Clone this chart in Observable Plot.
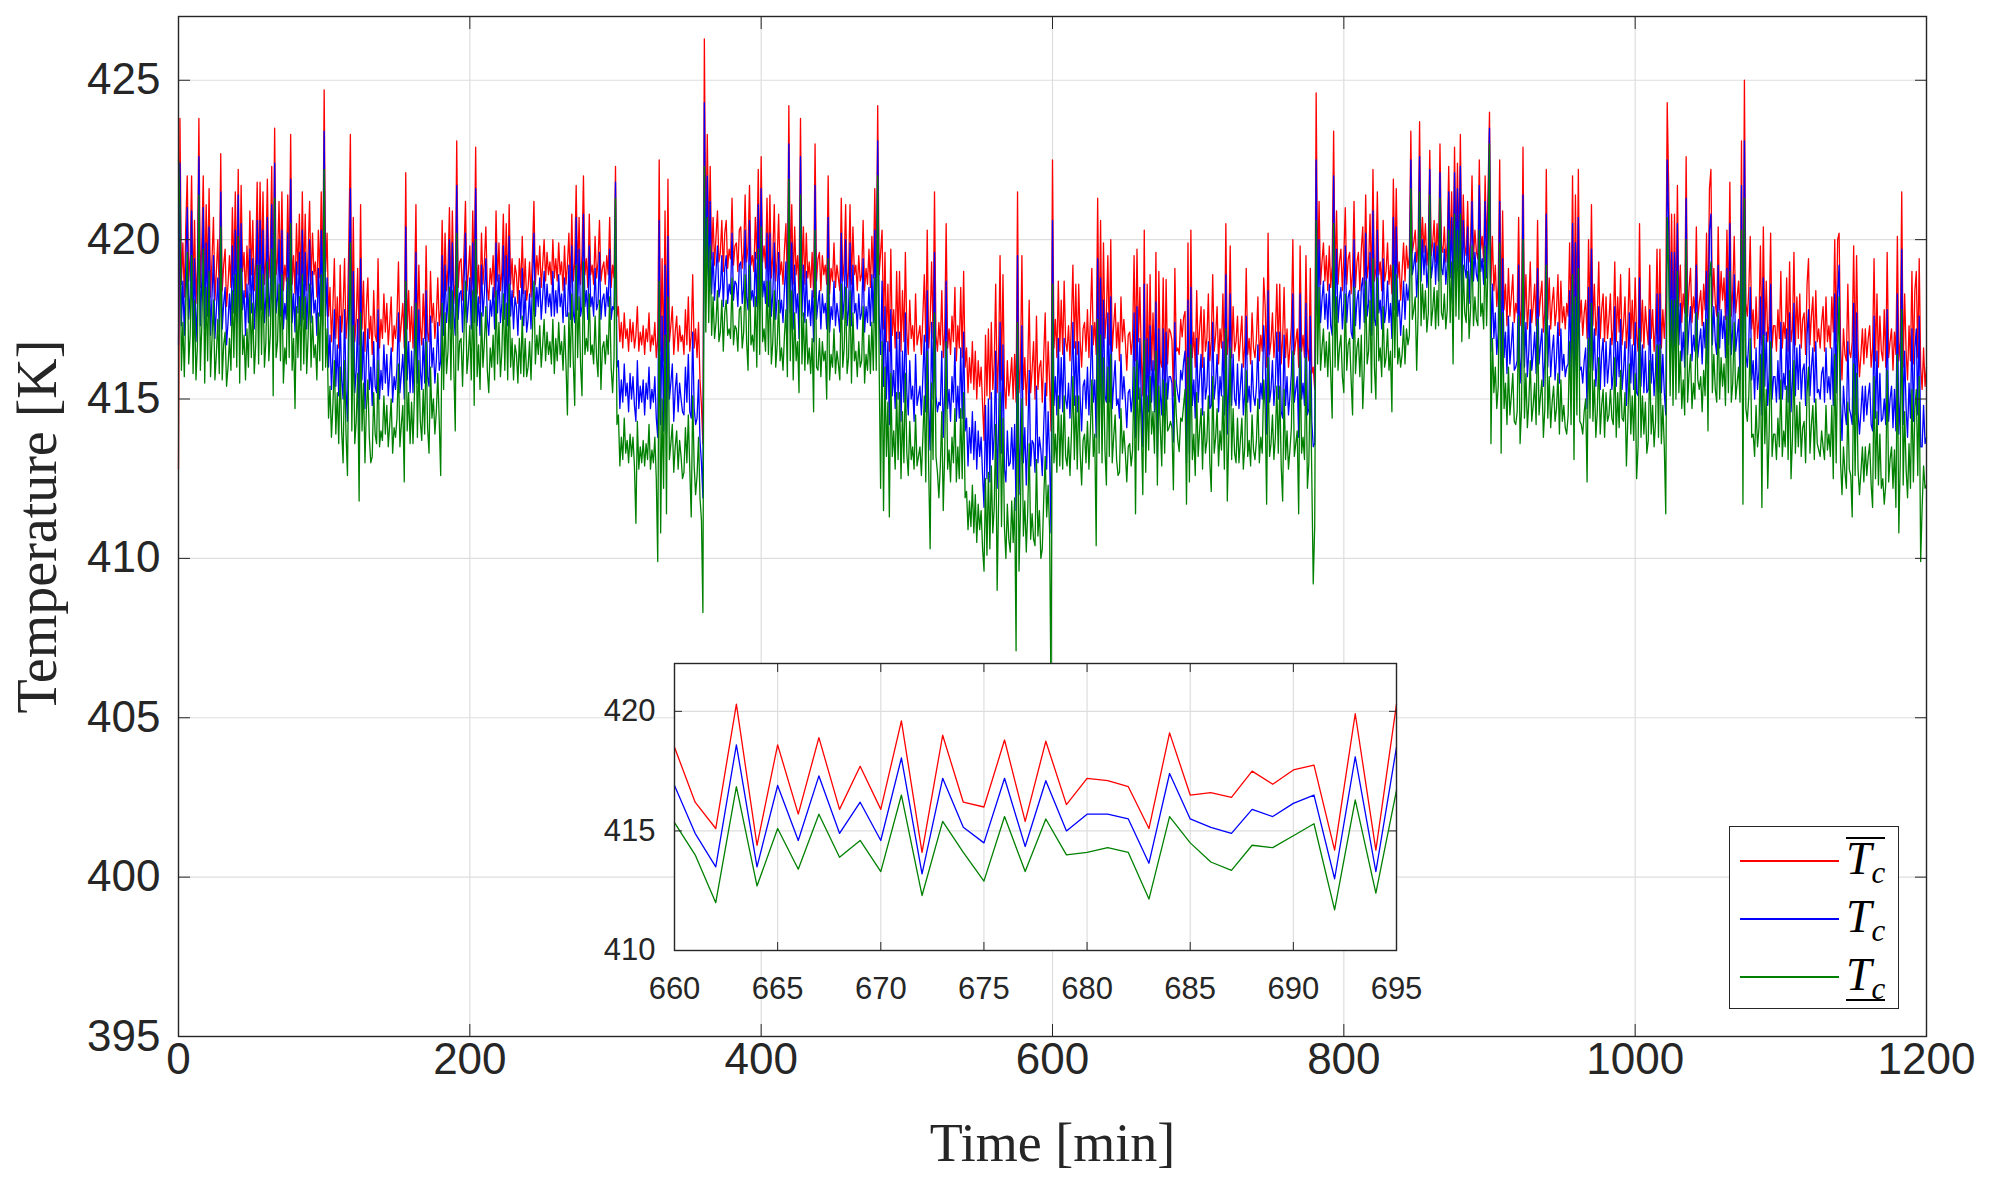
<!DOCTYPE html>
<html>
<head>
<meta charset="utf-8">
<script src="https://cdn.jsdelivr.net/npm/d3@7"></script>
<script src="https://cdn.jsdelivr.net/npm/@observablehq/plot@0.6"></script>
<style>
html, body { margin: 0; padding: 0; background: #fff; overflow: hidden; }
#wrap { position: relative; width: 1991px; height: 1186px; }
#main { position: absolute; left: 0; top: 0; }
#inset { position: absolute; left: 594px; top: 653px; }
#legend { position: absolute; left: 1729px; top: 826px; width: 170px; height: 183px; box-sizing: border-box;
  border: 1.4px solid #262626; background: #fff; }
.row { position: absolute; left: 0; width: 170px; height: 50px; }
.sw { position: absolute; left: 10px; top: 24px; width: 99px; height: 1.5px; }
.lab { position: absolute; left: 116px; top: -2px; font-family: "Liberation Serif", "DejaVu Serif", serif; font-size: 46px; line-height: 50px; color: #000; white-space: nowrap; }
.dec { display: inline-block; line-height: 40px; }
.lab i { font-style: italic; }
.lab sub { font-size: 31px; font-style: italic; vertical-align: -9px; line-height: 0; }
.over { border-top: 2px solid #000; }
.under { border-bottom: 2px solid #000; padding-bottom: 4px; }
</style>
</head>
<body>
<div id="wrap">
  <div id="main"></div>
  <div id="inset"></div>
  <div id="legend"></div>
</div>
<script>
// ---- Data (1-minute samples) ----
const upperTemp = [
412.8,423.8,418.6,419.9,418.2,420.4,422.0,418.7,419.5,422.0,
418.3,420.6,418.0,419.2,423.8,418.5,419.9,422.0,418.4,421.1,
418.8,421.6,418.2,419.4,420.7,418.1,419.0,420.0,418.3,422.7,
418.4,419.2,419.7,417.9,418.6,419.5,418.5,421.0,418.9,421.5,
418.6,422.2,418.3,421.7,419.0,419.6,418.2,419.8,418.6,420.9,
418.9,420.6,418.4,419.3,421.8,418.7,421.8,419.0,421.5,418.6,
419.4,421.9,418.8,419.6,422.3,418.5,423.5,418.9,419.4,421.2,
418.8,421.5,418.4,419.2,418.7,421.4,418.9,423.3,418.6,419.5,
418.3,420.5,418.9,420.8,418.5,421.5,418.7,420.8,418.4,419.6,
421.2,418.6,420.2,418.9,419.3,418.2,420.3,418.8,421.5,418.5,
424.7,419.0,420.2,417.6,418.5,416.8,417.9,419.4,416.9,418.2,
416.6,419.2,417.1,417.8,419.4,416.9,417.6,420.1,423.3,417.0,
420.7,416.8,417.5,419.1,416.7,421.1,417.2,418.7,416.5,417.9,
418.8,416.9,417.6,416.4,418.4,417.0,416.8,419.4,416.6,417.5,
416.9,418.3,417.1,418.0,416.7,417.4,418.2,416.5,417.3,416.9,
417.6,419.3,416.8,417.4,418.0,416.6,422.1,417.2,418.4,416.8,
417.9,416.6,418.2,421.1,416.9,419.2,417.3,416.7,418.3,416.9,
419.8,417.1,416.8,419.0,417.4,418.0,416.9,417.6,418.8,417.3,
417.8,420.6,418.0,420.2,418.4,419.1,421.0,418.2,420.9,418.6,
418.0,423.1,418.5,419.3,419.4,418.1,419.6,421.2,418.4,419.0,
419.8,418.2,420.9,418.7,422.9,418.3,419.2,418.0,420.2,418.6,
419.3,420.4,418.5,418.1,419.1,418.6,419.5,418.2,420.9,418.7,
419.9,418.4,419.0,420.8,418.5,420.5,418.3,421.1,418.6,419.4,
418.2,419.2,418.9,418.0,419.4,418.5,420.1,418.3,419.4,418.1,
418.5,419.3,418.2,419.6,421.2,418.6,419.5,418.9,419.8,418.5,
419.2,420.0,418.7,419.6,418.9,419.3,418.6,420.0,418.8,419.4,
418.7,419.9,418.9,419.3,418.4,419.8,418.6,419.2,420.2,418.5,
420.8,418.7,419.3,421.7,418.8,420.7,418.6,419.5,422.0,418.9,
419.4,418.5,420.8,418.9,419.2,418.6,420.1,418.8,419.3,420.6,
418.7,419.1,419.3,418.6,419.5,418.9,420.7,418.5,419.2,418.8,
422.3,417.6,417.9,416.8,417.4,416.6,417.7,416.9,417.2,416.5,
417.5,416.8,417.4,416.6,417.0,417.9,416.5,417.1,416.7,417.3,
416.4,417.2,416.8,417.7,416.5,417.0,416.7,417.4,416.3,416.9,
422.5,416.5,419.4,416.2,420.9,416.6,421.9,416.8,417.3,417.9,
416.4,417.1,417.6,416.5,417.3,416.8,417.0,416.4,417.8,416.7,
418.2,416.5,417.0,418.9,416.6,417.2,416.3,417.4,415.6,414.8,
413.6,426.3,419.6,423.3,419.8,422.3,419.4,420.7,419.2,420.1,
420.9,419.3,419.6,420.6,419.0,420.2,420.6,419.1,419.7,419.4,
421.3,419.2,419.8,419.9,419.0,420.3,420.4,419.1,419.6,421.4,
419.3,419.8,421.7,419.2,419.5,419.0,420.7,419.4,422.2,419.0,
422.6,419.3,419.8,419.1,421.3,419.0,421.4,418.8,419.5,421.1,
418.7,419.4,420.8,418.9,419.3,418.6,419.7,420.5,418.5,424.2,
418.9,421.1,418.6,420.4,418.9,419.5,418.3,423.8,418.8,420.4,
418.6,420.2,418.8,419.3,418.5,419.6,418.2,423.0,418.7,419.4,
419.6,418.4,419.5,418.9,419.2,418.6,422.0,418.3,419.1,418.7,
419.9,418.5,419.2,418.8,418.4,421.3,418.7,419.3,421.1,418.5,
419.0,421.1,418.6,420.4,418.9,419.2,418.4,419.5,418.7,418.9,
420.6,418.4,419.1,418.6,419.7,418.5,420.1,418.8,421.6,418.7,
424.2,418.9,419.6,420.3,417.2,419.6,416.8,418.6,416.5,419.7,
417.0,417.8,416.6,419.0,416.9,419.0,416.5,418.4,416.8,419.6,
417.1,416.4,418.1,416.9,417.3,416.5,418.3,416.7,417.0,417.3,
416.4,417.6,418.9,416.8,420.3,416.6,417.4,419.3,416.9,421.5,
417.0,416.5,417.4,416.7,418.4,416.3,417.1,420.5,416.6,417.2,
416.4,417.6,416.8,418.5,416.2,417.3,416.6,418.5,416.3,419.0,
416.0,416.6,415.2,416.3,415.5,416.8,415.3,416.5,415.0,416.2,
415.4,416.0,414.8,413.7,417.0,415.1,417.2,415.0,417.4,415.3,
416.1,418.6,415.2,416.3,419.5,415.6,418.9,415.4,414.7,416.2,
415.1,415.6,416.3,415.0,416.4,414.9,421.5,415.2,416.0,419.5,
415.3,416.3,414.8,416.0,418.1,415.2,415.9,416.8,415.0,417.6,
415.3,416.0,416.2,414.9,416.4,417.7,415.1,416.8,415.5,414.0,
422.5,416.6,417.5,416.3,418.7,416.5,418.1,416.4,418.7,416.8,
416.5,417.3,416.2,417.4,419.2,416.6,418.6,416.4,418.6,416.8,
416.0,417.2,417.4,416.5,417.8,416.3,417.5,419.1,416.7,417.4,
416.4,421.3,416.8,420.6,416.5,419.9,416.9,417.6,419.5,416.7,
420.0,416.5,417.3,418.0,416.6,417.4,416.2,418.2,416.8,417.5,
416.8,415.9,417.0,417.1,416.4,416.9,419.5,416.2,419.7,416.8,
418.5,416.2,415.1,420.3,414.4,418.6,415.7,418.9,415.9,417.7,
415.9,419.6,414.1,419.0,416.2,416.0,418.8,415.4,418.75,416.1,
417.2,417.1,416.85,415.1,419.1,416.5,416.6,416.4,417.5,416.95,
417.55,417.75,414.2,419.9,414.2,420.3,416.3,417.1,416.0,418.4,
416.4,417.2,417.9,416.0,417.8,416.5,416.9,418.3,416.2,416.8,
418.9,416.5,417.0,417.9,416.1,417.2,416.6,418.3,416.0,420.5,
416.4,417.0,419.8,416.3,417.9,416.5,416.8,417.6,416.2,416.9,
417.6,416.0,416.7,419.1,416.4,416.9,416.1,417.7,416.6,416.3,
416.9,418.2,416.2,417.0,416.5,418.8,417.9,416.0,420.2,416.4,
416.8,417.7,416.3,417.0,418.6,416.5,418.6,416.1,416.9,418.5,
416.3,417.2,416.0,416.6,417.3,420.0,416.4,416.8,417.2,416.0,
419.8,416.5,417.0,416.3,419.5,416.6,416.2,419.1,415.8,416.0,
415.3,424.6,418.8,421.2,418.6,419.3,419.9,418.7,419.5,418.4,
419.8,418.5,419.2,423.4,418.7,420.9,418.6,419.3,419.7,418.4,
419.5,421.0,418.6,419.4,419.6,418.3,419.0,421.2,418.5,419.3,
419.6,418.4,419.7,420.4,418.6,421.4,418.8,419.2,420.8,418.5,
422.2,418.7,419.1,421.5,418.9,419.3,418.4,420.6,418.7,419.0,
419.9,418.6,419.2,418.3,421.9,419.0,421.6,418.8,419.3,418.1,
419.0,419.9,418.7,419.8,419.1,419.5,423.4,419.6,419.9,420.3,
419.3,419.8,423.7,419.4,420.7,419.6,420.5,419.2,419.8,422.8,
419.5,419.9,420.6,419.3,420.5,419.4,423.0,419.8,419.6,420.4,
419.3,419.9,422.3,419.5,421.5,419.2,422.9,419.7,422.4,419.6,
423.3,419.4,421.4,419.8,419.5,421.2,419.3,419.9,422.0,419.4,
420.3,419.6,419.4,422.5,419.7,420.1,419.3,422.0,419.6,421.5,
424.0,418.6,420.1,418.4,419.2,417.9,418.6,422.5,417.6,420.9,
417.8,418.6,417.3,419.1,417.6,418.2,418.9,417.4,418.0,417.7,
420.7,417.3,417.8,422.9,417.5,418.9,417.2,418.0,419.3,417.4,
417.9,418.6,417.3,420.6,417.6,418.2,418.7,417.1,417.8,422.2,
417.5,418.8,417.2,418.0,418.5,417.3,417.8,418.9,417.0,418.7,
417.4,417.9,417.2,418.0,417.6,419.9,417.3,422.0,417.5,421.4,
417.6,422.2,417.4,418.1,417.0,417.7,418.1,416.9,420.0,417.5,
421.1,417.3,418.6,417.0,417.6,419.3,416.9,417.8,418.3,416.8,
418.2,416.9,417.5,418.3,416.7,417.2,419.3,416.8,418.2,417.1,
418.9,416.7,417.3,418.2,416.6,417.4,419.1,416.9,418.1,416.7,
418.8,417.0,416.5,420.5,416.8,418.1,416.6,417.9,417.2,416.7,
419.2,416.9,417.8,416.5,417.3,419.7,416.8,419.7,416.6,417.8,
416.9,418.0,424.3,421.7,417.8,420.8,417.5,420.8,417.6,421.7,
417.9,419.2,417.4,418.3,417.7,422.6,417.6,418.5,419.1,417.4,
418.2,417.7,420.4,417.5,418.0,418.4,417.3,418.6,417.8,420.2,
417.6,421.6,422.2,417.9,419.1,418.0,417.6,420.4,417.8,419.0,
418.1,418.8,417.5,420.3,417.9,421.8,417.6,418.4,420.1,417.7,
418.2,418.7,417.1,423.1,416.6,425.0,418.0,417.6,418.4,420.1,
417.2,417.8,416.6,418.2,416.9,417.5,419.8,416.7,420.4,417.0,
418.7,416.8,417.4,420.2,416.6,417.3,417.3,416.5,417.8,416.9,
419.0,416.6,417.4,416.9,418.8,416.5,419.3,416.8,417.2,419.6,
416.7,418.2,416.9,418.3,416.6,417.5,417.7,416.4,418.6,419.4,
416.7,417.6,418.2,416.5,418.4,416.8,417.2,416.6,417.4,417.9,
416.5,418.2,416.8,417.3,416.6,418.2,417.1,420.0,416.8,420.0,
420.2,416.7,415.6,417.2,416.4,416.2,418.6,416.5,416.3,416.8,
419.8,416.3,419.5,416.6,415.7,416.4,417.2,416.1,417.2,416.3,
416.9,417.3,416.0,416.6,419.4,416.2,418.3,416.0,417.6,416.5,
416.2,417.8,416.0,419.6,416.3,416.8,417.2,415.9,417.1,416.4,
420.1,416.2,416.8,421.5,416.0,418.3,416.5,415.6,417.3,416.2,
419.0,416.1,418.4,419.0,416.3,419.4,416.0,415.3,416.6,415.4,
416.0];

const nominalTemp = [
416.7,422.4,417.3,418.7,417.0,419.2,421.0,417.5,418.3,420.9,
417.1,419.4,416.8,418.0,422.6,417.3,418.7,421.0,417.2,419.9,
417.6,420.4,417.0,418.2,419.5,416.9,417.8,418.8,417.1,421.5,
417.2,418.0,418.5,416.7,417.4,418.3,417.3,419.8,417.7,420.3,
417.4,421.4,417.1,420.5,417.8,418.4,417.0,418.6,417.4,419.7,
417.7,419.4,417.2,418.1,420.6,417.5,420.6,417.8,420.3,417.4,
418.2,420.7,417.6,418.4,421.1,417.2,422.4,417.7,418.2,420.0,
417.6,420.3,417.2,418.0,417.5,420.2,417.7,421.9,417.4,418.3,
417.1,419.3,417.7,419.6,417.3,420.3,417.5,419.6,417.2,418.4,
420.0,417.4,419.0,417.7,418.1,417.0,419.1,417.6,420.3,417.3,
423.4,417.6,418.8,416.0,417.0,415.3,416.4,417.8,415.4,416.7,
415.1,417.6,415.6,415.0,417.8,415.3,414.3,418.5,421.6,415.5,
419.0,415.2,415.9,417.5,414.0,419.4,415.6,417.1,414.7,416.3,
417.2,415.3,416.0,414.8,416.8,415.4,415.2,417.8,415.0,415.9,
415.3,416.7,415.5,416.4,415.1,415.8,416.6,414.9,415.7,415.3,
416.0,417.7,415.2,415.8,416.4,415.0,420.4,415.6,416.8,415.2,
416.5,415.2,416.8,419.6,415.5,417.8,415.9,415.3,416.9,415.5,
418.4,415.7,415.4,417.6,416.0,416.6,415.5,416.2,417.4,415.9,
416.2,419.5,417.0,419.2,417.4,418.1,420.0,417.2,419.9,417.6,
417.0,421.7,417.5,418.3,418.4,417.1,418.6,420.2,417.4,418.0,
418.8,417.2,419.9,417.4,421.6,417.3,418.2,417.0,419.2,417.6,
418.3,419.4,417.5,417.0,418.1,417.6,418.5,417.2,419.9,417.7,
418.9,417.4,418.0,419.8,417.5,419.5,417.3,420.1,417.6,418.4,
417.2,418.2,417.9,417.0,418.4,417.5,419.1,417.3,418.4,417.1,
417.5,418.3,417.2,418.6,420.2,417.6,418.5,417.9,418.8,417.5,
418.2,419.0,417.7,418.6,417.9,418.3,417.6,419.0,417.6,418.4,
417.7,418.9,417.9,418.3,417.4,418.8,417.6,417.6,419.2,417.5,
419.8,417.7,417.4,420.7,417.8,419.7,417.6,417.9,420.8,417.9,
418.4,417.5,419.8,417.9,418.2,417.6,419.1,417.8,418.0,419.6,
417.5,418.1,418.3,417.6,418.5,417.9,419.7,417.5,417.9,417.8,
421.8,416.0,416.2,414.7,415.6,414.9,416.1,415.1,415.5,414.6,
415.8,415.0,415.7,414.8,414.3,416.2,414.7,415.4,414.9,415.6,
414.5,415.5,415.0,416.0,414.7,415.3,414.9,415.7,414.4,413.8,
420.6,414.2,417.6,414.0,419.2,413.9,420.1,415.0,415.5,416.1,
414.3,415.3,415.8,414.6,415.5,415.0,414.6,414.5,416.0,414.9,
416.4,414.6,414.4,417.1,414.7,414.2,414.4,415.6,413.7,413.0,
411.9,424.3,418.5,422.0,418.7,421.2,418.3,419.6,418.1,419.0,
419.8,418.2,418.5,419.5,417.9,419.1,419.5,418.0,418.6,418.3,
420.2,418.1,418.7,418.6,417.9,419.2,419.3,418.0,418.5,420.3,
418.2,417.8,420.6,418.1,418.4,417.9,419.6,417.9,421.1,417.8,
421.6,418.2,418.7,418.0,420.2,417.9,420.2,417.6,418.3,419.9,
417.5,418.2,419.6,417.7,418.1,417.4,418.5,419.3,417.1,423.0,
417.7,419.9,417.2,419.2,417.7,418.3,416.9,422.6,417.6,419.2,
417.4,419.0,417.6,418.1,417.3,418.4,416.8,421.7,417.5,418.0,
418.4,417.2,418.3,417.7,418.0,417.2,420.7,417.1,417.9,417.5,
418.7,417.3,418.0,417.6,417.1,420.2,417.5,418.1,420.0,417.3,
417.8,419.9,417.3,419.2,417.7,418.0,417.2,418.3,417.5,417.7,
419.4,417.1,417.9,417.4,418.5,417.3,418.9,417.4,420.3,417.4,
423.1,417.6,416.4,418.7,415.4,417.9,415.0,416.8,414.2,417.8,
415.1,415.9,414.7,417.1,415.0,417.1,414.3,416.5,414.9,417.7,
415.2,414.5,416.2,415.0,415.4,414.3,416.4,414.8,415.1,415.4,
414.5,415.7,417.0,414.6,418.4,414.7,413.4,417.4,415.0,419.6,
415.1,414.6,414.9,414.8,416.5,413.8,415.2,418.7,414.7,415.3,
414.3,415.7,414.9,416.6,414.3,415.4,414.4,416.6,414.4,417.1,
414.0,414.4,412.9,414.1,413.3,414.6,413.1,414.3,412.8,414.0,
413.2,413.8,412.6,411.6,414.8,412.5,415.0,412.4,415.2,413.1,
413.9,416.5,412.2,414.1,417.4,413.3,416.7,412.8,412.4,414.0,
412.9,413.0,414.1,412.8,414.2,411.5,419.5,412.0,413.8,417.3,
413.0,414.1,412.3,413.8,415.9,412.9,413.7,413.6,412.7,415.4,
413.0,413.8,413.4,412.6,414.2,415.5,412.8,414.6,413.2,410.8,
420.6,414.8,415.7,414.5,416.9,414.7,416.3,414.6,416.9,415.0,
414.7,415.5,414.4,415.6,417.4,414.8,416.8,414.6,416.8,415.0,
414.0,415.4,415.6,414.7,416.0,414.5,415.7,417.3,414.9,415.6,
413.8,419.4,415.0,418.8,414.7,418.1,415.1,414.9,417.7,414.9,
418.2,414.7,415.5,416.2,414.8,415.0,414.4,416.4,415.0,415.7,
415.0,414.1,415.2,415.3,414.6,415.1,417.7,413.8,417.9,415.0,
416.9,414.9,413.5,418.6,413.5,416.9,414.6,417.3,414.9,416.2,
414.6,418.05,413.2,417.2,415.15,414.5,417.2,414.35,417.1,415.0,
415.7,415.7,415.5,413.65,417.4,415.5,415.15,414.9,415.9,415.6,
416.15,416.5,413.0,418.1,413.3,418.5,414.8,415.6,414.4,416.9,
414.9,415.7,416.4,414.5,416.3,415.0,415.4,416.8,414.7,414.8,
417.4,415.0,415.5,416.4,414.6,415.7,415.1,416.8,414.5,418.9,
413.9,415.5,418.3,414.8,416.4,415.0,414.8,416.1,414.7,415.4,
416.1,414.5,415.2,417.6,414.9,415.4,414.6,416.2,415.1,414.8,
415.4,416.7,414.7,415.5,415.0,417.3,416.4,413.9,418.4,414.9,
415.3,416.2,414.8,415.5,417.1,415.0,417.1,414.6,414.4,417.0,
414.8,415.7,414.5,415.1,415.8,418.3,414.9,415.3,415.7,413.8,
418.3,415.0,415.5,414.8,418.0,414.5,414.7,417.6,414.3,413.5,
413.6,422.5,417.6,420.0,417.4,418.1,418.7,417.5,418.3,417.2,
418.6,417.3,417.0,422.0,417.5,419.7,417.4,418.1,418.5,417.2,
418.0,419.8,417.4,418.2,418.4,417.1,416.9,420.0,417.3,418.1,
418.4,417.2,418.5,418.8,417.4,420.2,417.6,418.0,419.6,417.0,
420.9,417.5,417.3,420.3,417.7,418.1,417.2,419.4,417.4,417.8,
418.7,417.4,418.0,416.9,420.7,417.8,420.4,417.6,418.1,417.0,
417.8,418.7,417.5,418.6,418.1,418.6,422.5,418.9,419.2,419.6,
418.2,419.1,422.6,418.7,420.0,418.9,419.8,418.5,419.1,422.2,
418.8,419.2,419.9,418.6,419.8,418.7,422.1,419.1,418.9,419.7,
418.6,419.2,421.5,418.8,420.7,418.0,422.1,419.0,421.6,418.9,
422.3,418.2,420.6,419.1,418.8,420.4,418.0,419.2,421.2,418.7,
419.6,418.9,418.7,421.7,419.0,419.4,418.6,421.2,418.8,420.7,
423.5,416.5,418.6,416.9,417.7,416.4,417.1,421.2,415.6,419.4,
416.3,417.1,415.8,417.6,416.1,416.7,417.4,415.9,416.0,416.2,
419.2,415.5,416.3,421.4,416.0,417.4,415.7,416.5,417.8,415.9,
416.4,417.1,415.8,419.1,416.1,416.7,417.2,415.4,416.3,420.8,
416.0,417.3,415.7,416.5,417.0,415.6,416.3,417.4,415.5,417.2,
415.9,416.4,415.7,416.0,416.1,418.4,415.8,420.5,415.2,419.9,
416.1,420.7,415.9,416.0,415.5,416.2,416.6,414.7,418.5,416.0,
419.7,415.9,417.2,415.4,416.2,417.9,415.3,416.4,416.9,415.4,
416.8,415.5,416.1,416.9,415.3,415.8,417.9,415.4,416.8,415.7,
417.5,415.3,415.9,416.8,414.8,416.0,417.7,415.5,416.7,415.3,
417.4,415.2,415.1,418.8,415.4,416.7,415.2,416.5,415.2,415.3,
417.8,415.5,416.4,415.1,415.9,418.3,415.2,418.3,415.2,416.4,
415.2,414.5,422.5,420.5,416.6,419.6,416.3,419.6,416.2,420.5,
416.7,418.0,416.2,417.1,416.0,421.3,416.4,417.3,417.9,416.2,
417.0,416.5,419.2,416.3,416.8,417.2,416.1,417.4,416.6,419.0,
416.1,420.3,420.8,416.7,417.9,416.8,416.4,419.2,416.6,417.8,
416.9,417.6,416.3,419.1,416.7,420.5,416.4,417.2,418.9,416.5,
417.0,417.5,415.6,421.7,414.4,423.1,416.4,416.0,416.8,418.5,
415.6,416.2,415.0,416.6,415.3,415.9,418.2,414.5,418.8,415.4,
417.1,414.8,415.8,418.6,415.0,415.7,415.7,414.9,416.2,415.0,
417.4,415.0,415.8,415.3,417.2,414.9,417.7,414.6,415.6,418.0,
415.1,416.6,415.3,416.7,415.0,415.9,416.1,414.8,417.0,417.8,
415.1,416.0,416.6,414.9,416.8,415.2,415.3,415.0,415.8,416.0,
414.9,416.6,415.2,415.7,415.0,416.6,414.8,418.3,415.2,418.3,
419.2,414.9,413.7,415.4,414.6,414.2,416.8,414.7,414.5,414.2,
418.0,414.5,417.7,414.6,413.9,414.6,415.4,414.3,415.4,414.5,
415.1,415.5,414.2,414.0,417.6,414.4,416.5,414.2,415.8,414.3,
414.4,415.0,414.2,417.8,414.3,415.0,415.4,414.1,415.3,414.0,
418.3,413.9,415.0,419.7,414.2,416.5,414.7,413.8,415.5,414.4,
417.2,414.3,416.6,417.2,414.5,417.6,413.5,413.5,414.8,413.6,
413.8];

const lowerTemp = [
422.5,421.0,415.9,417.4,415.7,417.9,419.6,416.1,417.0,419.5,
415.8,418.1,415.6,416.7,421.4,415.9,417.3,419.7,415.5,418.5,
416.2,419.0,415.7,416.9,418.1,415.6,416.4,417.5,415.8,420.4,
415.6,416.7,417.1,415.4,416.0,416.9,415.9,418.4,416.3,418.9,
416.0,420.1,415.5,419.1,416.4,417.0,415.6,417.2,416.0,418.3,
416.3,418.0,415.8,416.7,419.2,416.1,419.2,416.4,418.9,416.0,
416.8,419.3,416.2,417.0,419.7,415.1,421.3,416.3,416.8,418.6,
416.2,418.9,415.5,416.6,416.1,418.8,416.3,420.5,415.9,416.9,
414.7,417.9,416.3,418.2,415.9,418.9,416.1,418.2,415.8,417.0,
418.6,416.0,417.6,416.3,416.7,415.6,417.7,416.2,418.9,415.9,
422.2,416.0,417.2,414.4,415.4,413.8,414.8,416.2,413.9,415.2,
413.6,416.0,414.0,413.0,416.2,413.9,412.6,416.9,419.9,414.0,
417.3,413.6,414.3,415.8,411.8,417.7,414.0,415.5,413.0,414.7,
415.6,413.8,413.0,413.2,415.2,413.9,413.6,416.2,413.5,414.0,
413.7,415.1,413.9,414.8,413.5,414.2,415.0,413.3,414.1,413.8,
414.4,416.1,413.5,414.2,414.8,412.4,418.7,414.0,415.2,413.6,
414.9,413.6,415.2,418.0,413.8,416.2,414.3,413.7,415.3,413.9,
416.8,414.1,413.3,416.0,414.4,415.0,413.9,414.6,415.8,414.3,
412.6,418.0,415.3,417.7,415.8,416.5,418.5,415.6,418.4,416.0,
414.0,420.2,415.9,416.8,416.9,415.4,417.1,418.7,415.8,416.4,
417.3,415.6,418.4,414.8,420.0,415.7,416.7,415.3,417.7,416.0,
416.8,417.9,415.9,415.2,416.6,416.0,417.0,415.6,418.4,416.1,
417.4,415.7,416.5,418.3,415.9,418.0,415.6,418.6,416.0,416.9,
415.6,416.7,416.4,415.5,416.9,415.8,417.6,415.7,416.9,415.7,
416.0,416.8,415.6,417.1,418.7,416.1,417.0,416.4,417.3,416.0,
416.7,417.5,416.2,417.1,416.4,416.8,416.1,417.5,415.8,416.9,
416.2,417.4,416.4,416.8,415.9,417.3,416.1,414.5,417.7,416.0,
418.3,416.2,414.8,419.2,416.3,418.2,416.1,415.1,419.3,416.4,
416.9,416.5,418.3,416.4,416.7,416.1,417.6,416.3,415.7,418.1,
415.3,416.6,416.8,416.1,417.0,416.4,418.2,416.0,415.2,416.3,
421.3,414.2,414.5,412.9,413.8,413.1,414.4,413.3,413.7,413.0,
413.9,413.2,413.8,412.9,411.1,414.3,412.8,413.5,413.0,413.7,
412.9,413.6,413.1,414.2,412.8,413.4,413.0,413.8,412.5,409.9,
418.7,410.8,415.0,412.2,417.0,411.4,418.2,413.1,413.6,414.2,
412.7,413.5,414.0,412.8,413.7,413.2,412.5,412.7,414.1,413.0,
414.5,412.8,411.3,415.1,412.9,412.0,412.6,413.8,411.9,411.2,
408.3,422.3,417.1,420.7,417.4,419.8,417.0,418.2,416.9,417.4,
418.4,416.8,417.1,418.1,416.5,417.7,418.1,417.0,417.2,416.9,
418.8,416.7,417.3,417.2,416.5,417.8,417.9,416.6,417.1,418.9,
416.8,415.9,419.2,416.7,417.0,416.5,418.2,416.0,419.7,416.4,
420.4,416.8,417.2,416.5,418.7,416.4,418.7,416.1,416.8,418.4,
416.0,416.7,418.1,416.2,416.6,415.9,417.0,417.8,415.7,421.9,
416.2,418.4,415.6,417.7,416.2,416.8,415.2,421.4,416.1,417.7,
415.9,417.5,416.1,416.6,415.8,416.9,414.6,420.3,416.0,415.9,
416.9,415.7,416.8,416.2,416.5,415.0,419.4,415.6,416.4,416.0,
417.2,415.8,416.5,416.1,415.6,418.6,416.0,416.6,418.5,415.8,
416.3,418.4,415.5,417.7,416.2,416.5,415.7,416.8,416.0,416.2,
417.9,415.5,416.4,415.9,417.0,415.8,417.4,415.9,418.8,415.9,
422.0,416.0,412.2,416.8,411.5,416.0,413.2,414.9,411.3,415.8,
413.2,414.0,412.8,415.2,413.1,415.2,412.5,414.6,413.0,415.8,
413.3,412.6,414.3,413.1,413.5,412.8,414.5,412.9,413.2,413.5,
412.6,413.8,415.1,412.4,416.5,412.8,410.3,415.5,413.1,417.7,
413.2,412.7,411.9,412.9,414.6,411.5,413.3,416.8,412.8,413.4,
412.4,413.8,413.0,414.7,412.4,413.5,412.5,414.7,412.5,415.2,
411.9,412.1,410.9,411.8,411.0,412.3,410.8,412.0,410.5,411.7,
410.9,411.5,410.3,409.6,412.5,410.1,412.7,410.3,412.9,410.8,
411.6,414.2,409.0,411.8,415.2,411.0,414.4,411.0,410.0,411.7,
410.6,410.2,411.8,410.5,411.9,407.1,417.4,409.6,411.5,415.0,
410.7,411.8,410.2,411.5,413.6,410.6,411.4,410.6,410.4,413.1,
410.7,411.5,410.0,410.3,411.9,413.2,411.3,412.3,410.9,405.5,
418.6,413.0,413.9,412.7,415.1,412.9,414.5,412.8,415.1,413.2,
412.9,413.8,412.6,413.9,415.7,413.1,415.1,412.8,415.1,413.3,
412.3,413.7,413.9,413.0,414.3,412.8,414.0,415.6,413.2,413.9,
410.4,417.5,413.3,417.0,413.0,416.3,413.4,412.3,416.0,413.2,
416.4,413.0,413.8,414.5,413.1,412.6,412.7,414.7,413.3,414.0,
413.3,412.4,413.5,413.6,412.9,413.4,416.0,411.4,416.2,413.4,
415.35,414.0,412.0,416.85,412.7,415.1,413.4,415.7,413.9,414.6,
413.3,416.5,412.3,415.4,414.1,412.9,415.6,413.3,415.5,414.0,
414.1,414.3,414.1,412.15,415.6,414.5,413.7,413.35,414.4,414.3,
414.8,415.3,411.7,416.3,412.4,416.7,413.1,413.9,412.6,415.2,
413.2,414.0,414.7,412.8,414.6,413.3,413.7,415.1,413.0,412.1,
415.7,413.3,413.8,414.7,412.9,414.0,413.4,415.1,412.8,417.2,
411.8,413.8,416.6,413.1,414.7,413.3,413.0,414.4,413.0,413.7,
414.4,412.8,413.5,415.9,413.2,413.7,412.9,414.5,413.4,413.1,
413.7,415.0,413.0,413.8,413.3,415.6,414.7,411.7,416.3,413.2,
413.6,414.5,413.1,413.8,415.4,413.3,415.4,412.9,411.8,415.3,
413.1,414.0,412.8,413.4,414.1,416.5,413.2,413.6,414.0,411.4,
416.6,413.3,413.8,413.1,416.3,412.2,413.0,415.9,412.6,409.2,
411.0,420.6,416.1,418.5,415.9,416.6,417.2,416.0,416.8,415.7,
417.1,415.8,414.4,420.5,416.0,418.2,415.9,416.6,417.0,415.7,
415.2,418.3,415.9,416.7,416.9,415.6,414.5,418.5,415.8,416.6,
416.9,415.7,417.0,414.7,415.9,418.7,416.1,416.5,418.1,415.2,
419.4,416.0,415.0,418.8,416.2,416.6,415.7,417.9,416.0,416.3,
417.2,415.9,416.5,414.6,419.2,416.3,418.9,416.1,416.6,416.0,
416.4,417.3,416.1,417.2,416.7,417.0,421.6,417.5,417.8,418.2,
415.9,417.7,421.5,417.3,418.6,417.5,418.4,417.1,417.7,421.4,
417.3,417.8,418.5,417.2,418.4,417.3,421.3,417.7,417.5,418.3,
417.2,417.8,420.3,417.4,419.3,416.1,420.8,417.6,420.3,417.5,
420.8,416.8,419.2,417.7,417.4,419.0,416.9,417.8,419.8,417.3,
418.2,417.5,417.3,420.3,417.6,418.0,417.2,419.8,417.3,419.3,
423.0,413.6,416.9,415.2,416.0,414.7,415.4,419.9,413.3,417.7,
414.7,415.5,414.2,416.0,414.5,415.1,415.8,414.3,414.2,414.6,
417.6,413.6,414.7,420.0,414.4,415.8,414.1,414.9,416.2,414.3,
414.8,415.5,414.2,417.5,414.5,415.1,415.6,413.8,414.7,419.2,
414.4,415.7,414.1,414.9,415.4,414.3,414.7,415.8,413.9,415.6,
414.3,414.8,414.1,413.9,414.5,416.8,414.2,418.9,413.1,418.2,
414.5,419.1,414.3,414.2,413.9,414.6,415.0,412.4,416.9,414.4,
418.0,414.3,415.6,413.8,414.6,416.3,413.9,414.8,415.3,413.8,
415.2,414.3,414.5,415.3,414.4,414.2,416.3,413.8,415.2,414.1,
415.9,414.4,414.3,415.2,412.9,414.4,416.1,413.9,415.1,413.7,
415.8,412.5,413.5,417.2,413.8,415.1,413.9,414.9,413.3,413.7,
416.2,413.9,414.8,413.5,414.3,416.7,413.8,416.7,413.6,414.8,
413.5,411.4,420.7,419.0,415.1,418.1,414.8,418.1,415.0,419.0,
415.2,416.5,414.7,415.6,414.5,420.0,414.9,415.8,416.4,414.7,
415.5,415.0,417.7,415.6,415.3,415.7,414.6,415.9,415.1,417.5,
414.0,418.8,419.3,415.2,416.4,415.3,414.9,417.7,415.0,416.3,
415.4,416.1,414.8,417.6,415.2,419.0,414.9,415.5,417.4,415.0,
415.5,416.0,414.9,420.3,411.7,421.3,414.7,414.3,415.1,416.9,
413.8,413.9,413.2,414.8,413.5,414.1,416.4,411.6,417.0,413.6,
415.3,412.2,414.0,416.8,413.2,413.9,413.9,413.1,414.4,413.5,
415.6,413.2,414.0,413.5,415.4,413.1,415.9,412.5,413.8,416.2,
413.3,414.8,413.5,414.9,413.2,414.1,414.3,413.0,415.2,416.0,
413.3,414.2,414.8,413.1,415.0,413.6,413.4,413.2,414.0,413.5,
413.1,414.8,413.4,413.9,413.2,414.8,412.5,416.4,413.0,416.5,
418.2,413.0,412.0,413.5,412.7,412.2,414.9,412.8,412.6,411.3,
416.1,412.6,415.8,412.8,412.0,412.7,413.5,412.4,413.5,412.6,
413.2,413.6,412.3,411.6,415.7,412.5,414.6,412.3,413.9,412.2,
412.5,411.7,412.3,415.9,412.4,413.1,413.5,412.2,413.4,411.6,
416.4,410.8,413.1,417.8,412.3,414.6,412.8,411.9,413.6,412.2,
415.3,412.4,414.7,415.3,412.6,415.7,409.9,411.6,412.9,412.2,
412.3];

// Inset (zoom on minutes 660-695)
const insetMinutes = [660,661,662,663,664,665,666,667,668,669,670,671,672,673,674,675,676,677,678,679,680,681,682,683,684,685,686,687,688,689,690,691,692,693,694,695];
const insetUpper = [418.5,416.2,415.1,420.3,414.4,418.6,415.7,418.9,415.9,417.7,415.9,419.6,414.1,419.0,416.2,416.0,418.8,415.4,418.75,416.1,417.2,417.1,416.85,415.1,419.1,416.5,416.6,416.4,417.5,416.95,417.55,417.75,414.2,419.9,414.2,420.3];
const insetNominal = [416.9,414.9,413.5,418.6,413.5,416.9,414.6,417.3,414.9,416.2,414.6,418.05,413.2,417.2,415.15,414.5,417.2,414.35,417.1,415.0,415.7,415.7,415.5,413.65,417.4,415.5,415.15,414.9,415.9,415.6,416.15,416.5,413.0,418.1,413.3,418.5];
const insetLower = [415.35,414.0,412.0,416.85,412.7,415.1,413.4,415.7,413.9,414.6,413.3,416.5,412.3,415.4,414.1,412.9,415.6,413.3,415.5,414.0,414.1,414.3,414.1,412.15,415.6,414.5,413.7,413.35,414.4,414.3,414.8,415.3,411.7,416.3,412.4,416.7];

// Ticks
const xTicks = [0, 200, 400, 600, 800, 1000, 1200];
const yTicks = [395, 400, 405, 410, 415, 420, 425];
const insetXTicks = [660, 665, 670, 675, 680, 685, 690, 695];
const insetYTicks = [410, 415, 420];

// Series
const seriesColors = ["#ff0000", "#0000ff", "#008000"];
const seriesDecor = ["over", "", "under"];

// ---- Build ----
const toRows = (arr, t) => arr.map((v, i) => ({t: t[i], v}));
const mainSeries = [upperTemp, nominalTemp, lowerTemp].map((a) => toRows(a, d3.range(a.length)));
const insetSeries = [insetUpper, insetNominal, insetLower].map((a) => toRows(a, insetMinutes));

const axisColor = "#262626";
const gridColor = "#dedede";
const serif = "'Liberation Serif', 'DejaVu Serif', serif";

const main = Plot.plot({
  width: 1991, height: 1186,
  marginLeft: 178, marginRight: 65, marginTop: 16, marginBottom: 150,
  style: {fontFamily: "'Liberation Sans', Arial, Helvetica, sans-serif", fontSize: "44px", color: axisColor, background: "transparent"},
  x: {domain: [0, 1200]},
  y: {domain: [395, 427]},
  marks: [
    Plot.gridX(xTicks, {stroke: gridColor, strokeOpacity: 1, strokeWidth: 1.2}),
    Plot.gridY(yTicks, {stroke: gridColor, strokeOpacity: 1, strokeWidth: 1.2}),
    ...mainSeries.map((rows, k) => Plot.line(rows, {x: "t", y: "v", stroke: seriesColors[k], strokeWidth: 1.3})),
    Plot.frame({stroke: axisColor, strokeWidth: 1.4}),
    Plot.axisX(xTicks, {anchor: "bottom", tickSize: -12, tickPadding: 18, tickFormat: "d", label: null, fontSize: 44}),
    Plot.axisX(xTicks, {anchor: "top", tickSize: -12, tickFormat: () => "", label: null}),
    Plot.axisY(yTicks, {anchor: "left", tickSize: -12, tickPadding: 30, tickFormat: "d", label: null, fontSize: 44}),
    Plot.axisY(yTicks, {anchor: "right", tickSize: -12, tickFormat: () => "", label: null}),
    Plot.text(["Time [min]"], {frameAnchor: "bottom", dy: 107, textAnchor: "middle", lineAnchor: "middle", fontSize: 54, fontFamily: serif, fill: axisColor}),
    Plot.text(["Temperature [K]"], {frameAnchor: "left", dx: -140, rotate: -90, textAnchor: "middle", lineAnchor: "middle", fontSize: 56, fontFamily: serif, fill: axisColor})
  ]
});
document.getElementById("main").appendChild(main);

const inset = Plot.plot({
  width: 842, height: 377,
  marginLeft: 80, marginRight: 40, marginTop: 10, marginBottom: 80,
  style: {fontFamily: "'Liberation Sans', Arial, Helvetica, sans-serif", fontSize: "31px", color: axisColor, background: "transparent"},
  x: {domain: [660, 695]},
  y: {domain: [410, 422]},
  marks: [
    Plot.frame({fill: "white", stroke: "none"}),
    Plot.gridX(insetXTicks, {stroke: gridColor, strokeOpacity: 1, strokeWidth: 1.2}),
    Plot.gridY(insetYTicks, {stroke: gridColor, strokeOpacity: 1, strokeWidth: 1.2}),
    ...insetSeries.map((rows, k) => Plot.line(rows, {x: "t", y: "v", stroke: seriesColors[k], strokeWidth: 1.3})),
    Plot.frame({stroke: axisColor, strokeWidth: 1.4}),
    Plot.axisX(insetXTicks, {anchor: "bottom", tickSize: -8, tickPadding: 34, tickFormat: "d", label: null, fontSize: 31}),
    Plot.axisX(insetXTicks, {anchor: "top", tickSize: -8, tickFormat: () => "", label: null}),
    Plot.axisY(insetYTicks, {anchor: "left", tickSize: -8, tickPadding: 27, tickFormat: "d", label: null, fontSize: 31}),
    Plot.axisY(insetYTicks, {anchor: "right", tickSize: -8, tickFormat: () => "", label: null})
  ]
});
document.getElementById("inset").appendChild(inset);

// Legend
const legend = document.getElementById("legend");
seriesColors.forEach((c, k) => {
  const row = document.createElement("div");
  row.className = "row";
  row.style.top = (9 + k * 58) + "px";
  row.innerHTML = `<span class="sw" style="background:${c}"></span><span class="lab"><span class="dec ${seriesDecor[k]}"><i>T</i><sub>c</sub></span></span>`;
  legend.appendChild(row);
});
</script>
</body>
</html>
